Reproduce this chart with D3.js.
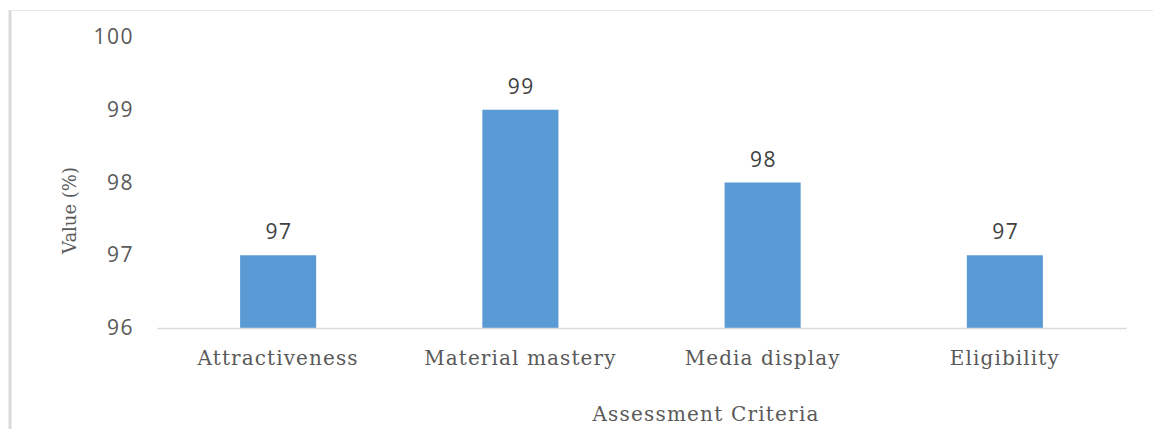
<!DOCTYPE html>
<html>
<head>
<meta charset="utf-8">
<script src="https://cdn.jsdelivr.net/npm/d3@7"></script>
<style>
  body { margin: 0; background: #fff; }
  svg { display: block; }
</style>
</head>
<body>
<div id="chart"></div>
<script>
// chart data
var categories = ["Attractiveness", "Material mastery", "Media display", "Eligibility"];
var values = [97, 99, 98, 97];
var yTicks = [96, 97, 98, 99, 100];

var W = 1153, H = 429;
var margin = {top: 37, right: 27, bottom: 101, left: 157};
var width = W - margin.left - margin.right;
var height = H - margin.top - margin.bottom;

var sansFont = "'Open Sans', 'Liberation Sans', sans-serif";
var serifFont = "'DejaVu Serif', serif";

var root = d3.select("#chart")
    .append("svg")
    .attr("width", W)
    .attr("height", H);

// frame (left and top edges of the figure box)
root.append("line")
    .attr("x1", 10).attr("x2", 10)
    .attr("y1", 10).attr("y2", H)
    .attr("stroke", "#d9d9d9").attr("stroke-width", 3);
root.append("line")
    .attr("x1", 10).attr("x2", W)
    .attr("y1", 10.5).attr("y2", 10.5)
    .attr("stroke", "#e6e6e6").attr("stroke-width", 1);

var svg = root.append("g")
    .attr("transform", "translate(" + margin.left + "," + margin.top + ")");

var x = d3.scaleBand()
    .range([0, width])
    .domain(categories)
    .paddingInner(0.686)
    .paddingOuter(0.343);

var y = d3.scaleLinear()
    .domain([96, 100])
    .range([height, 0]);

// y axis labels only
var yAxis = svg.append("g")
    .call(d3.axisLeft(y).tickValues(yTicks).tickSize(0).tickPadding(23).tickFormat(d3.format("d")));
yAxis.select(".domain").remove();
yAxis.selectAll("text")
    .style("font-family", sansFont)
    .style("font-size", "21px")
    .style("letter-spacing", "1.5px")
    .style("fill", "#595959");

// bars
svg.selectAll("rect.bar")
    .data(values)
    .enter()
    .append("rect")
    .attr("class", "bar")
    .attr("x", function (d, i) { return x(categories[i]); })
    .attr("y", function (d) { return y(d); })
    .attr("width", x.bandwidth())
    .attr("height", function (d) { return height - y(d); })
    .style("fill", "#5b9bd5");

// value labels
svg.selectAll("text.label")
    .data(values)
    .enter()
    .append("text")
    .attr("class", "label")
    .attr("x", function (d, i) { return x(categories[i]) + x.bandwidth() / 2 + 1; })
    .attr("y", function (d) { return y(d) - 16; })
    .attr("text-anchor", "middle")
    .style("font-family", sansFont)
    .style("font-size", "21px")
    .style("letter-spacing", "1.5px")
    .style("fill", "#404040")
    .text(function (d) { return d; });

// x axis
var xAxis = svg.append("g")
    .attr("transform", "translate(0," + height + ")")
    .call(d3.axisBottom(x).tickSize(0).tickPadding(23));
xAxis.select(".domain")
    .attr("stroke", "#d9d9d9")
    .attr("stroke-width", 1.5);
xAxis.selectAll("text")
    .style("font-family", serifFont)
    .style("font-size", "20px")
    .style("letter-spacing", "1.1px")
    .style("fill", "#595959");

// axis titles
svg.append("text")
    .attr("x", 549)
    .attr("y", height + 93)
    .attr("text-anchor", "middle")
    .style("font-family", serifFont)
    .style("font-size", "20px")
    .style("letter-spacing", "1.2px")
    .style("fill", "#595959")
    .text("Assessment Criteria");

svg.append("text")
    .attr("transform", "translate(" + (-81) + "," + (height / 2 + 28) + ") rotate(-90)")
    .attr("text-anchor", "middle")
    .style("font-family", serifFont)
    .style("font-size", "18px")
    .style("fill", "#595959")
    .text("Value (%)");
</script>
</body>
</html>
